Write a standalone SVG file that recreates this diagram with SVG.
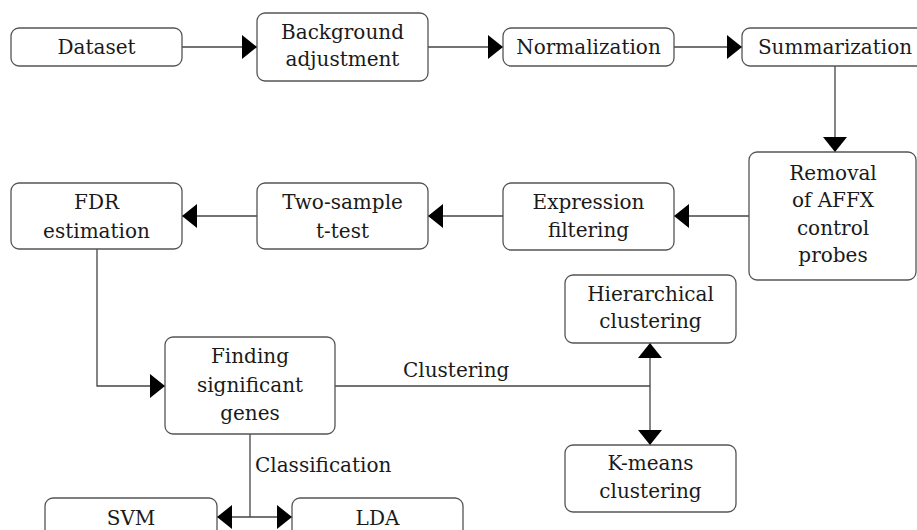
<svg xmlns="http://www.w3.org/2000/svg" width="917" height="530" viewBox="0 0 917 530">
<style>
.box{fill:#fff;stroke:#555;stroke-width:1.3}
.t{font-family:"DejaVu Serif","Liberation Serif",serif;font-size:20px;fill:#1a1a1a;text-anchor:middle}
.lbl{font-family:"DejaVu Serif","Liberation Serif",serif;font-size:20px;fill:#1a1a1a}
.c{fill:none;stroke:#444;stroke-width:1.3}
.a{marker-end:url(#ah)}
</style>
<defs>
<marker id="ah" viewBox="0 0 15 24" refX="15" refY="12" markerWidth="15" markerHeight="24" markerUnits="userSpaceOnUse" orient="auto">
<path d="M0,0 L15,12 L0,24 Z" fill="#000"/>
</marker>
</defs>
<rect width="917" height="530" fill="#fff"/>
<g id="connectors">
<path class="c a" d="M182,47 H257"/>
<path class="c a" d="M428,47 H503"/>
<path class="c a" d="M674,47 H742"/>
<path class="c a" d="M835,66 V152"/>
<path class="c a" d="M749,216 H674"/>
<path class="c a" d="M503,216 H428"/>
<path class="c a" d="M257,216 H182"/>
<path class="c a" d="M97,249 V386 H165"/>
<path class="c" d="M335,386 H650"/>
<path class="c a" d="M650,386 V343"/>
<path class="c a" d="M650,386 V445"/>
<path class="c" d="M250,434 V517"/>
<path class="c a" d="M250,517 H217"/>
<path class="c a" d="M250,517 H292"/>
<text class="lbl" x="403" y="377">Clustering</text>
<text class="lbl" x="255" y="472">Classification</text>
</g>
<g id="dataset"><rect class="box" x="11" y="28" width="171" height="38" rx="8"/><text class="t" x="96.5" y="54">Dataset</text></g>
<g id="background"><rect class="box" x="257" y="13" width="171" height="68" rx="8"/><text class="t" x="342.5" y="39">Background</text><text class="t" x="342.5" y="66">adjustment</text></g>
<g id="normalization"><rect class="box" x="503" y="28" width="171" height="38" rx="8"/><text class="t" x="588.5" y="54">Normalization</text></g>
<g id="summarization"><rect class="box" x="742" y="28" width="188" height="38" rx="8"/><text class="t" x="835" y="54">Summarization</text></g>
<g id="removal"><rect class="box" x="749" y="152" width="167" height="128" rx="8"/><text class="t" x="833" y="180">Removal</text><text class="t" x="833" y="207">of AFFX</text><text class="t" x="833" y="235">control</text><text class="t" x="833" y="262">probes</text></g>
<g id="expression"><rect class="box" x="503" y="183" width="171" height="67" rx="8"/><text class="t" x="588.5" y="209">Expression</text><text class="t" x="588.5" y="237">filtering</text></g>
<g id="ttest"><rect class="box" x="257" y="183" width="171" height="66" rx="8"/><text class="t" x="342.5" y="209">Two-sample</text><text class="t" x="342.5" y="238">t-test</text></g>
<g id="fdr"><rect class="box" x="11" y="183" width="171" height="66" rx="8"/><text class="t" x="96.5" y="209">FDR</text><text class="t" x="96.5" y="238">estimation</text></g>
<g id="finding"><rect class="box" x="165" y="337" width="170" height="97" rx="8"/><text class="t" x="250" y="363">Finding</text><text class="t" x="250" y="392">significant</text><text class="t" x="250" y="420">genes</text></g>
<g id="hierarchical"><rect class="box" x="565" y="275" width="171" height="68" rx="8"/><text class="t" x="650.5" y="301">Hierarchical</text><text class="t" x="650.5" y="328">clustering</text></g>
<g id="kmeans"><rect class="box" x="565" y="445" width="171" height="67" rx="8"/><text class="t" x="650.5" y="470">K-means</text><text class="t" x="650.5" y="498">clustering</text></g>
<g id="svm"><rect class="box" x="45" y="498" width="172" height="50" rx="8"/><text class="t" x="131" y="525">SVM</text></g>
<g id="lda"><rect class="box" x="292" y="498" width="171" height="50" rx="8"/><text class="t" x="377.5" y="525">LDA</text></g>
</svg>
